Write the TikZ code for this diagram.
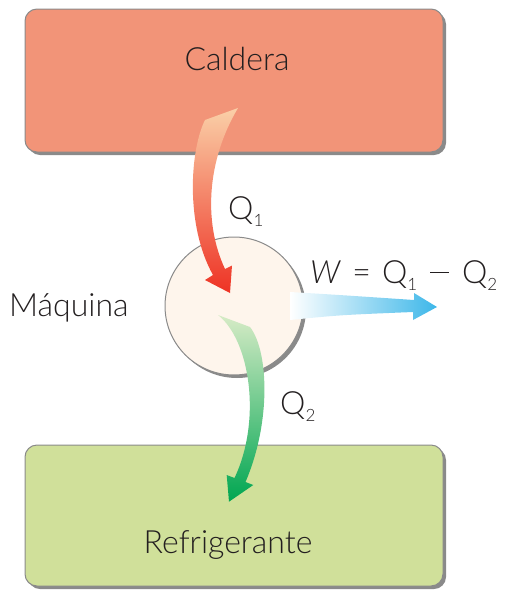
\documentclass[tikz,border=0pt]{standalone}
\usepackage{fontspec}
\setmainfont{Lato Light}
\usetikzlibrary{shadows}
\definecolor{calderafill}{HTML}{F29478}
\definecolor{refrifill}{HTML}{D0E09A}
\definecolor{boxline}{HTML}{8A8A8A}
\definecolor{txt}{HTML}{231F20}
\definecolor{machfill}{HTML}{FEF5EC}
\definecolor{qonetop}{HTML}{FAD0A8}
\definecolor{qonebot}{HTML}{EE3224}
\definecolor{qtwotop}{HTML}{D6EBC6}
\definecolor{qtwobot}{HTML}{00A651}
\definecolor{wblue}{HTML}{3DB7E9}
\newcommand{\sub}[1]{\raisebox{-0.22em}{\fontsize{17}{17}\selectfont #1}}
\newcommand{\minussign}{\rule[0.3em]{0.6em}{1.1pt}}
\begin{document}
\begin{tikzpicture}[x=1pt,y=-1pt,
  box/.style={draw=boxline, line width=1pt, rounded corners=12pt,
    minimum width=418pt, drop shadow={shadow xshift=3pt, shadow yshift=-3pt, fill=boxline, opacity=1}},
  lbl/.style={text=txt, font=\fontsize{32}{36}\selectfont, inner sep=0pt}]
\useasboundingbox (0,0) rectangle (516,590);
% boxes
\node[box, fill=calderafill, minimum height=143pt] (caldera) at (234,80.5) {};
\node[box, fill=refrifill, minimum height=141pt] (refri) at (234,515.5) {};
\node[lbl, anchor=base] (calderalabel) at (237,70) {Caldera};
\node[lbl, anchor=base] (refrilabel) at (228,553) {Refrigerante};
% machine circle
\fill[boxline] (237,309) circle (69);
\node[circle, draw=boxline, line width=1pt, fill=machfill, minimum size=138pt, inner sep=0pt] (maquina) at (234,306) {};
\node[lbl, anchor=base west] (maquinalabel) at (9,316) {Máquina};
% Q1 arrow
\shade[top color=qonetop, bottom color=qonebot]
  (205,120) .. controls (190,150) and (185,225) .. (213,275)
  -- (205,280) -- (230,293) -- (232,265.5) -- (225,269)
  .. controls (203,222) and (207,160) .. (238,108) -- cycle;
% W arrow
\shade[left color=white, right color=wblue]
  (290,292) .. controls (340,295) .. (414,300) -- (414,293) -- (437,307)
  -- (413,320) -- (413,312) .. controls (340,315) .. (290,320) -- cycle;
% Q2 arrow
\shade[top color=qtwotop, bottom color=qtwobot]
  (218,315) .. controls (250,340) and (262,420) .. (234.5,478)
  -- (226.7,475) -- (229,501.7) -- (253.3,485) -- (245.5,482)
  .. controls (272,420) and (268,350) .. (250,327) -- cycle;
% labels
\node[lbl, anchor=base west] (qone) at (228,219) {Q\sub{1}};
\node[lbl, anchor=base west] (qtwo) at (280,414) {Q\sub{2}};
\node[lbl, anchor=base west] (work) at (310,283) {\textit{W}\hspace{0.35em}=\hspace{0.35em}Q\sub{1}\hspace{0.4em}\minussign\hspace{0.4em}Q\sub{2}};
\end{tikzpicture}
\end{document}
